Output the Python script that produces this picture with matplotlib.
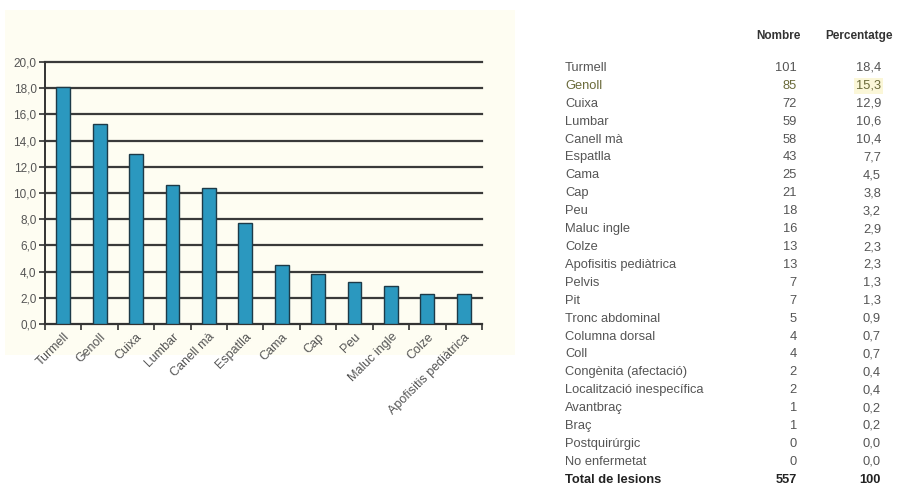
import matplotlib
matplotlib.use("Agg")
import matplotlib.pyplot as plt
from matplotlib.patches import Rectangle
import numpy as np

plt.rcParams["font.family"] = ["Liberation Sans", "DejaVu Sans"]

# Chart data (percentages)
chart_categories = ["Turmell", "Genoll", "Cuixa", "Lumbar", "Canell mà", "Espatlla",
                    "Cama", "Cap", "Peu", "Maluc ingle", "Colze", "Apofisitis pediàtrica"]
chart_values = [18.1, 15.3, 13.0, 10.6, 10.4, 7.7, 4.5, 3.8, 3.2, 2.9, 2.3, 2.3]
y_ticks = [0, 2, 4, 6, 8, 10, 12, 14, 16, 18, 20]

# Table data
table_labels = ["Turmell", "Genoll", "Cuixa", "Lumbar", "Canell mà", "Espatlla", "Cama",
                "Cap", "Peu", "Maluc ingle", "Colze", "Apofisitis pediàtrica", "Pelvis", "Pit",
                "Tronc abdominal", "Columna dorsal", "Coll", "Congènita (afectació)",
                "Localització inespecífica", "Avantbraç", "Braç", "Postquirúrgic", "No enfermetat"]
table_counts = ["101", "85", "72", "59", "58", "43", "25", "21", "18", "16", "13", "13", "7", "7",
                "5", "4", "4", "2", "2", "1", "1", "0", "0"]
table_pcts = ["18,4", "15,3", "12,9", "10,6", "10,4", "7,7", "4,5", "3,8", "3,2", "2,9", "2,3",
              "2,3", "1,3", "1,3", "0,9", "0,7", "0,7", "0,4", "0,4", "0,2", "0,2", "0,0", "0,0"]
total_label = "Total de lesions"
total_count = "557"
total_pct = "100"
headers = ["Nombre", "Percentatge"]

W, H = 912, 487
fig = plt.figure(figsize=(W / 100, H / 100), dpi=100)
fig.patch.set_facecolor("white")

# cream panel behind chart
fig.patches.append(Rectangle((5 / W, 1 - 355 / H), 510 / W, 345 / H, transform=fig.transFigure,
                             facecolor="#fefdf2", edgecolor="none", zorder=-5))

ax = fig.add_axes([45 / W, 1 - 324 / H, (482 - 45) / W, (324 - 62) / H])
ax.set_zorder(2)
ax.set_facecolor("none")
x = np.arange(len(chart_categories))
ax.bar(x, chart_values, width=0.38, color="#2b98bf", edgecolor="#1d3a48", linewidth=1.0, zorder=3)
ax.set_xlim(-0.5, len(chart_categories) - 0.5)
ax.set_ylim(0, 20)
ax.set_yticks(y_ticks)
ax.set_yticklabels([f"{v:.1f}".replace(".", ",") for v in y_ticks], fontsize=8.5, color="#555555")
for v in y_ticks[1:]:
    ax.axhline(v, color="#3a3a3a", linewidth=1.6, zorder=1, clip_on=False)
ax.set_xticks(x)
ax.set_xticklabels(chart_categories, rotation=45, ha="right", rotation_mode="anchor",
                   fontsize=9, color="#555555")
ax.tick_params(axis="x", which="major", length=0, pad=5)
ax.set_xticks(np.arange(-0.5, len(chart_categories)), minor=True)
ax.tick_params(axis="x", which="minor", length=4, width=1.2, color="#333333", direction="out")
ax.tick_params(axis="y", length=4, width=1.2, color="#333333", direction="out", pad=2)
for s in ["top", "right"]:
    ax.spines[s].set_visible(False)
ax.spines["left"].set_color("#333333")
ax.spines["left"].set_linewidth(1.4)
ax.spines["bottom"].set_color("#333333")
ax.spines["bottom"].set_linewidth(1.6)

# Table
def fy(py):
    return 1 - py / H

fs = 9.3
label_x = 565 / W
count_x = 797 / W
pct_x = 881 / W
fig.text(778 / W, fy(36), headers[0], fontsize=8.5, fontweight="bold", color="#333333",
         ha="center", va="center")
fig.text(859 / W, fy(36), headers[1], fontsize=8.5, fontweight="bold", color="#333333",
         ha="center", va="center")
row0 = 68
step = 17.9
for i, (lab, c, p) in enumerate(zip(table_labels, table_counts, table_pcts)):
    yy = fy(row0 + i * step)
    col = "#6a6a3a" if lab == "Genoll" else "#555555"
    fig.text(label_x, yy, lab, fontsize=fs, color=col, ha="left", va="center")
    fig.text(count_x, yy, c, fontsize=fs, color=col, ha="right", va="center")
    if lab == "Genoll":
        fig.text(pct_x, yy, p, fontsize=fs, color=col, ha="right", va="center",
                 bbox=dict(boxstyle="square,pad=0.15", facecolor="#fbf7d8", edgecolor="none"))
    else:
        fig.text(pct_x, yy, p, fontsize=fs, color=col, ha="right", va="center")
yy = fy(row0 + len(table_labels) * step)
fig.text(label_x, yy, total_label, fontsize=fs, fontweight="bold", color="#222222", ha="left", va="center")
fig.text(count_x, yy, total_count, fontsize=fs, fontweight="bold", color="#222222", ha="right", va="center")
fig.text(pct_x, yy, total_pct, fontsize=fs, fontweight="bold", color="#222222", ha="right", va="center")

fig.savefig("out.png", dpi=100)
